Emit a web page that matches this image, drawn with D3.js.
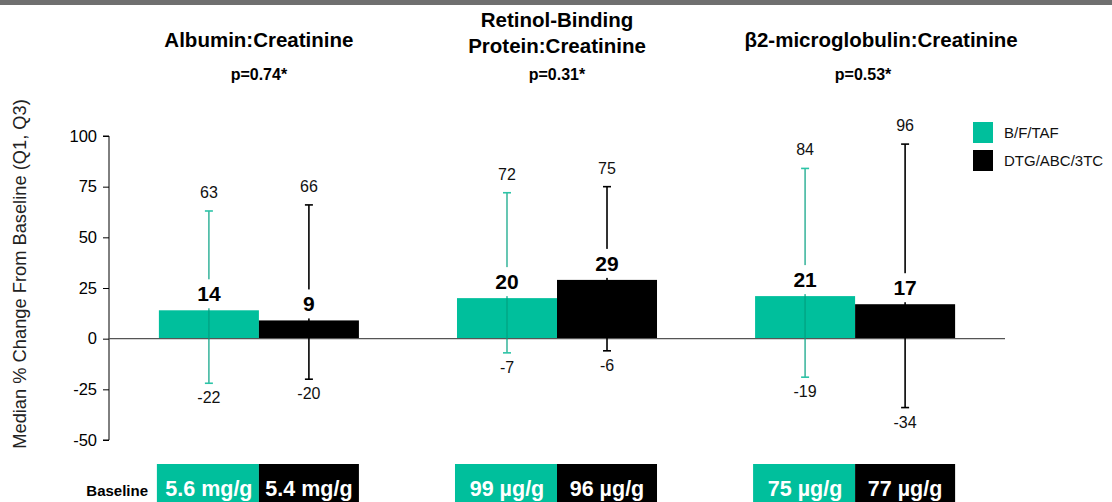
<!DOCTYPE html>
<html>
<head>
<meta charset="utf-8">
<script src="https://cdn.jsdelivr.net/npm/d3@7"></script>
<style>
  html, body { margin: 0; padding: 0; background: #fff; }
  svg { display: block; font-family: "Liberation Sans", Arial, sans-serif; }
</style>
</head>
<body>
<svg id="chart" width="1112" height="502"></svg>
<script>
// Urine protein:creatinine ratios — median % change from baseline with Q1/Q3
const groupTitles = [["Albumin:Creatinine"], ["Retinol-Binding", "Protein:Creatinine"], ["β2-microglobulin:Creatinine"]];
const pValues = ["p=0.74*", "p=0.31*", "p=0.53*"];
const seriesNames = ["B/F/TAF", "DTG/ABC/3TC"];
const bftafMedian = [14, 20, 21];
const bftafQ1 = [-22, -7, -19];
const bftafQ3 = [63, 72, 84];
const dtgMedian = [9, 29, 17];
const dtgQ1 = [-20, -6, -34];
const dtgQ3 = [66, 75, 96];
const bftafBaseline = ["5.6 mg/g", "99 µg/g", "75 µg/g"];
const dtgBaseline = ["5.4 mg/g", "96 µg/g", "77 µg/g"];
const yTicks = [100, 75, 50, 25, 0, -25, -50];

const colors = ["#00BF9C", "#000000"];
const whiskerColors = ["#2cc4a7", "#000000"];

const svg = d3.select("#chart");

// top banner strip
svg.append("rect").attr("x", 0).attr("y", 0).attr("width", 1112).attr("height", 5).attr("fill", "#707070");

const y = d3.scaleLinear().domain([-50, 100]).range([440, 136]);
const x0 = d3.scaleBand().domain([0, 1, 2]).range([110, 1004]).paddingInner(0.329).paddingOuter(0.164);
const x1 = d3.scaleBand().domain([0, 1]).range([0, x0.bandwidth()]);

const series = [
  { med: bftafMedian, q1: bftafQ1, q3: bftafQ3, base: bftafBaseline },
  { med: dtgMedian, q1: dtgQ1, q3: dtgQ3, base: dtgBaseline }
];

// y axis
const yAxis = d3.axisLeft(y).tickValues(yTicks).tickSize(6).tickPadding(6).tickFormat(d => String(d));
const gy = svg.append("g").attr("transform", "translate(109,0)").call(yAxis);
gy.select(".domain").attr("stroke", "#000").attr("d", `M-6,${y(100)}H0V${y(-50)}H-6`);
gy.selectAll(".tick line").attr("stroke", "#000");
gy.selectAll(".tick text").attr("font-size", 16.5).attr("fill", "#000")
  .attr("font-family", "Liberation Sans, Arial, sans-serif");

svg.append("text")
  .attr("transform", `translate(26,${(y(100) + y(-50)) / 2 - 14}) rotate(-90)`)
  .attr("text-anchor", "middle")
  .attr("font-size", 18.3)
  .attr("fill", "#222")
  .text("Median % Change From Baseline (Q1, Q3)");

// bars
const data = [];
series.forEach((s, si) => {
  s.med.forEach((m, gi) => data.push({ si, gi, m, q1: s.q1[gi], q3: s.q3[gi], base: s.base[gi] }));
});

const gBars = svg.append("g");
gBars.selectAll("rect").data(data).join("rect")
  .attr("x", d => x0(d.gi) + x1(d.si))
  .attr("y", d => y(Math.max(0, d.m)))
  .attr("width", x1.bandwidth())
  .attr("height", d => Math.abs(y(d.m) - y(0)))
  .attr("fill", d => colors[d.si]);

// zero line
svg.append("line").attr("x1", 109).attr("x2", 1005).attr("y1", y(0)).attr("y2", y(0))
  .attr("stroke", "#555").attr("stroke-width", 1.2);

// whiskers
const cx = d => x0(d.gi) + x1(d.si) + x1.bandwidth() / 2;
const gW = svg.append("g");
gW.selectAll("line.v").data(data).join("line")
  .attr("x1", cx).attr("x2", cx)
  .attr("y1", d => y(d.q3)).attr("y2", d => y(d.q1))
  .attr("stroke", d => d.si === 0 ? "rgba(0,160,128,0.75)" : "#000")
  .attr("stroke-width", 1.6);
gW.selectAll("line.capt").data(data).join("line")
  .attr("x1", d => cx(d) - 4).attr("x2", d => cx(d) + 4)
  .attr("y1", d => y(d.q3)).attr("y2", d => y(d.q3))
  .attr("stroke", d => whiskerColors[d.si]).attr("stroke-width", 1.6);
gW.selectAll("line.capb").data(data).join("line")
  .attr("x1", d => cx(d) - 4).attr("x2", d => cx(d) + 4)
  .attr("y1", d => y(d.q1)).attr("y2", d => y(d.q1))
  .attr("stroke", d => whiskerColors[d.si]).attr("stroke-width", 1.6);

// quartile labels
const gL = svg.append("g").attr("font-size", 16).attr("fill", "#111").attr("text-anchor", "middle");
gL.selectAll("text.q3").data(data).join("text")
  .attr("x", cx).attr("y", d => y(d.q3) - 13).text(d => d.q3);
gL.selectAll("text.q1").data(data).join("text")
  .attr("x", cx).attr("y", d => y(d.q1) + 20).text(d => d.q1);

// median labels with white backing that breaks the whisker
const gM = svg.append("g");
gM.selectAll("rect").data(data).join("rect")
  .attr("x", d => cx(d) - 15).attr("y", d => y(d.m) - 31)
  .attr("width", 30).attr("height", 29).attr("fill", "#fff");
gM.selectAll("text").data(data).join("text")
  .attr("x", cx).attr("y", d => y(d.m) - 9)
  .attr("text-anchor", "middle").attr("font-size", 21).attr("font-weight", "bold").attr("fill", "#000")
  .text(d => d.m);

// group titles and p-values
const titleX = [0, 0, 26];
const pX = [0, 0, 8];
groupTitles.forEach((lines, gi) => {
  const c = x0(gi) + x0.bandwidth() / 2;
  const startY = lines.length === 1 ? 47 : 27;
  lines.forEach((ln, li) => {
    svg.append("text").attr("x", c + titleX[gi]).attr("y", startY + li * 26)
      .attr("text-anchor", "middle").attr("font-size", 20.5)
      .attr("font-weight", "bold").attr("fill", "#000").text(ln);
  });
  svg.append("text").attr("x", c + pX[gi]).attr("y", 80).attr("text-anchor", "middle")
    .attr("font-size", 16).attr("font-weight", "bold").attr("fill", "#000").text(pValues[gi]);
});

// legend
const leg = svg.append("g").attr("transform", "translate(973,122)");
seriesNames.forEach((n, i) => {
  leg.append("rect").attr("x", 0).attr("y", i * 28).attr("width", 20).attr("height", 21).attr("fill", colors[i]);
  leg.append("text").attr("x", 31).attr("y", i * 28 + 16).attr("font-size", 15).attr("fill", "#111").text(n);
});

// baseline row
svg.append("text").attr("x", 148).attr("y", 496).attr("text-anchor", "end")
  .attr("font-size", 15).attr("font-weight", "bold").attr("fill", "#000").text("Baseline");
const gB = svg.append("g");
gB.selectAll("rect").data(data).join("rect")
  .attr("x", d => x0(d.gi) + x1(d.si) - (d.si === 0 ? 2 : 0))
  .attr("y", 464).attr("width", d => x1.bandwidth() + (d.si === 0 ? 2 : 0)).attr("height", 38)
  .attr("fill", d => colors[d.si]);
gB.selectAll("text").data(data).join("text")
  .attr("x", cx).attr("y", 496).attr("text-anchor", "middle")
  .attr("font-size", 21.5).attr("font-weight", "bold").attr("fill", "#fff")
  .text(d => d.base);
</script>
</body>
</html>
